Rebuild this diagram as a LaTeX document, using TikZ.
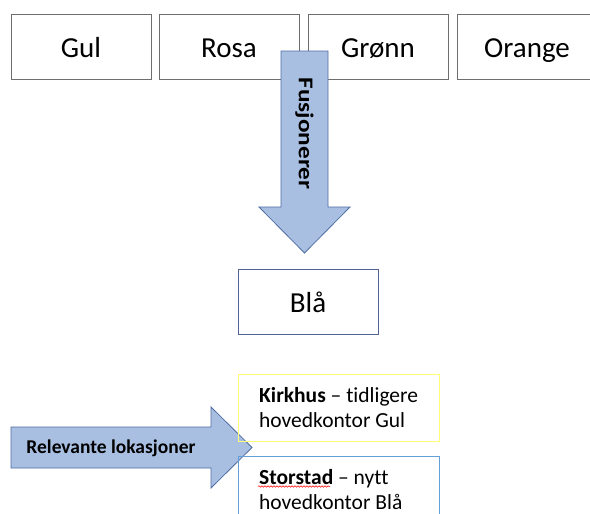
\documentclass[tikz,border=0pt]{standalone}
\usepackage{fontspec}
\setmainfont[Ligatures=NoCommon]{Carlito}
\usetikzlibrary{decorations.pathmorphing}
\definecolor{boxgray}{RGB}{110,110,110}
\definecolor{arrowfill}{RGB}{168,191,226}
\definecolor{arrowline}{RGB}{80,110,165}
\definecolor{blagray}{RGB}{80,100,150}
\definecolor{kyellow}{RGB}{255,255,120}
\definecolor{sblue}{RGB}{100,160,215}
\begin{document}
\begin{tikzpicture}[x=1pt,y=-1pt,
  topbox/.style={draw=boxgray, line width=0.9pt, minimum width=140pt, minimum height=65pt, inner sep=0pt, outer sep=0pt, text height=24pt, text depth=3pt, font=\fontsize{29}{34}\selectfont},
  blockarrow/.style={fill=arrowfill, draw=arrowline, line width=0.8pt, line join=miter},
  infobox/.style={line width=1pt, minimum width=201pt, minimum height=67pt, inner sep=0pt, outer sep=0pt},
  infotext/.style={anchor=west, align=left, inner sep=0pt, font=\fontsize{21.5}{25}\selectfont},
  arrowtext/.style={font=\bfseries\fontsize{21}{24}\selectfont, inner sep=0pt}]
\useasboundingbox (0,0) rectangle (590,514);
\clip (0,0) rectangle (590,514);
\fill[white] (0,0) rectangle (590,514);
% top row
\node[topbox] (gul) at (81,46.5) {Gul};
\node[topbox] (rosa) at (229,46.5) {Rosa};
\node[topbox] (gronn) at (378,46.5) {Grønn};
\node[topbox, minimum width=160pt] (orange) at (537,46.5) {\hspace*{-20pt}Orange};
% merge arrow
\draw[blockarrow] (281,51) -- (328,51) -- (328,207) -- (350,207) -- (304.5,253) -- (259,207) -- (281,207) -- cycle;
\node[arrowtext, rotate=-90] (fus) at (304.5,133.5) {\scalebox{1.2}[1]{Fusjonerer}};
% result
\node[topbox, draw=blagray] (bla) at (308,301.5) {Blå};
% locations arrow
\draw[blockarrow] (11,427) -- (211,427) -- (211,407) -- (252,447.5) -- (211,488) -- (211,468) -- (11,468) -- cycle;
\node[arrowtext, font=\bfseries\fontsize{19.5}{23}\selectfont] (rel) at (111,448) {Relevante lokasjoner};
% info boxes
\node[infobox, draw=kyellow] (kirk) at (338.5,407.5) {};
\node[infotext] (kirktext) at ([xshift=21pt]kirk.west) {\textbf{Kirkhus} – tidligere\\hovedkontor Gul};
\node[infobox, draw=sblue] (stor) at (338.5,489.5) {};
\node[infotext] (stortext) at ([xshift=21pt]stor.west) {\textbf{Storstad} – nytt\\hovedkontor Blå};
\draw[red, line width=0.5pt, decorate, decoration={snake, amplitude=0.8pt, segment length=3pt}] (258,486.5) -- (330,486.5);
\end{tikzpicture}
\end{document}
